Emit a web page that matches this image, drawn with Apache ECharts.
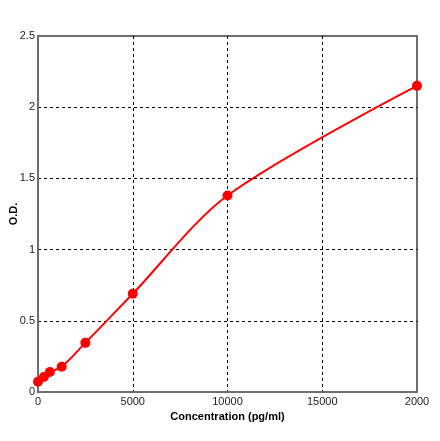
<!DOCTYPE html>
<html>
<head>
  <meta charset="UTF-8">
  <title>Standard curve</title>
  <style>
    body { margin: 0; padding: 0; background: #fff; }
    #chart { width: 440px; height: 441px; }
  </style>
</head>
<body>
  <div id="chart"></div>
  <script src="https://cdn.jsdelivr.net/npm/echarts@6/dist/echarts.min.js"></script>
  <script>
    // standard concentrations (pg/ml) and measured O.D.
    var conc = [0, 312, 625, 1250, 2500, 5000, 10000, 20000];
    var od = [0.072, 0.105, 0.14, 0.177, 0.345, 0.69, 1.38, 2.15];
    // tick labels as printed in the picture (last one is cut short there)
    var xTickLabels = { 0: '0', 5000: '5000', 10000: '10000', 15000: '15000', 20000: '2000' };

    var points = conc.map(function (c, i) { return [c, od[i]]; });

    var chart = echarts.init(document.getElementById('chart'));
    var labelFont = { color: '#222', fontSize: 11, fontFamily: 'Liberation Sans, Arial, sans-serif' };

    chart.setOption({
      animation: false,
      grid: {
        left: 38, right: 23, top: 36, bottom: 49,
        outerBoundsMode: 'none',
        containLabel: false,
        show: true, borderColor: '#6e6e6e', borderWidth: 2
      },
      xAxis: {
        type: 'value',
        min: 0, max: 20000, interval: 5000,
        name: 'Concentration (pg/ml)',
        nameLocation: 'middle',
        nameGap: 19,
        nameMoveOverlap: false,
        nameTextStyle: { color: '#000', fontSize: 11, fontWeight: 'bold', fontFamily: 'Liberation Sans, Arial, sans-serif' },
        axisLine: { lineStyle: { color: '#6e6e6e', width: 2 } },
        axisTick: { show: false },
        axisLabel: Object.assign({ margin: 4, formatter: function (v) { return xTickLabels[v]; } }, labelFont),
        splitLine: {
          show: true, showMinLine: false, showMaxLine: false,
          lineStyle: { color: '#000', type: [3, 3], width: 1 }
        }
      },
      yAxis: {
        type: 'value',
        min: 0, max: 2.5, interval: 0.5,
        name: 'O.D.',
        nameLocation: 'middle',
        nameGap: 19,
        nameMoveOverlap: false,
        nameRotate: 90,
        nameTextStyle: { color: '#000', fontSize: 11, fontWeight: 'bold', fontFamily: 'Liberation Sans, Arial, sans-serif' },
        axisLine: { lineStyle: { color: '#6e6e6e', width: 2 } },
        axisTick: { show: false },
        axisLabel: Object.assign({ margin: 3 }, labelFont),
        splitLine: {
          show: true, showMinLine: false, showMaxLine: false,
          lineStyle: { color: '#000', type: [3, 3], width: 1 }
        }
      },
      series: [{
        type: 'line',
        data: points,
        smooth: 0.3,
        symbol: 'circle',
        symbolSize: 10,
        lineStyle: { color: '#ff0000', width: 2 },
        itemStyle: { color: '#ff0000' }
      }]
    });
  </script>
</body>
</html>
